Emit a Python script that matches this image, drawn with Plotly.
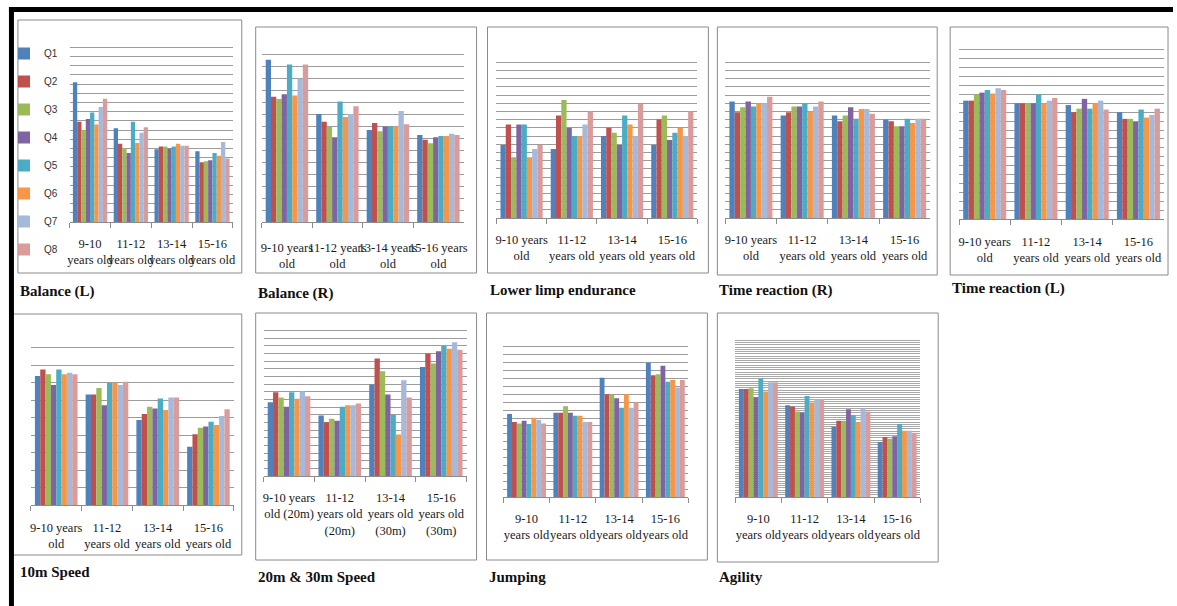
import plotly.graph_objects as go

# ---------------- data (arbitrary units = gridline steps) -------------
SERIES = ["Q1", "Q2", "Q3", "Q4", "Q5", "Q6", "Q7", "Q8"]
AGE_GROUPS = ["9-10", "11-12", "13-14", "15-16"]

LABELS_SHORT = ["9-10<br>years old", "11-12<br>years old", "13-14<br>years old", "15-16<br>years old"]
LABELS_WIDE = ["9-10 years<br>old", "11-12 years<br>old", "13-14 years<br>old", "15-16 years<br>old"]
LABELS_STD = ["9-10 years<br>old", "11-12<br>years old", "13-14<br>years old", "15-16<br>years old"]
LABELS_SPEED = ["9-10 years<br>old (20m)", "11-12<br>years old<br>(20m)", "13-14<br>years old<br>(30m)", "15-16<br>years old<br>(30m)"]

TITLES = ["Balance (L)", "Balance (R)", "Lower limp endurance", "Time reaction (R)",
          "Time reaction (L)", "10m Speed", "20m & 30m Speed", "Jumping", "Agility"]

# each list: one series (Q1..Q8), values for the 4 age groups
BALANCE_L = [
    [15.2, 10.2, 7.9, 7.7], [10.9, 8.5, 8.2, 6.5], [10.0, 8.0, 8.2, 6.6], [11.2, 7.5, 8.0, 6.7],
    [11.9, 10.9, 8.2, 7.5], [10.6, 8.6, 8.5, 7.2], [12.5, 9.7, 8.3, 8.7], [13.4, 10.3, 8.3, 6.9]]
BALANCE_R = [
    [13.6, 9.05, 7.7, 7.3], [10.5, 8.4, 8.3, 6.9], [10.3, 8.0, 7.6, 6.6], [10.7, 7.1, 8.0, 7.1],
    [13.2, 10.1, 8.0, 7.2], [10.6, 8.8, 8.0, 7.2], [12.0, 9.05, 9.3, 7.4], [13.2, 9.7, 8.2, 7.3]]
LOWER_LIMP = [
    [8.9, 8.4, 10.0, 8.9], [11.4, 12.5, 11.0, 12.0], [7.4, 14.4, 10.4, 12.5], [11.4, 11.0, 8.9, 9.5],
    [11.4, 10.0, 12.5, 10.4], [7.4, 10.0, 11.4, 11.0], [8.4, 11.4, 10.0, 10.0], [8.9, 13.0, 13.9, 13.0]]
TIME_R = [
    [14.2, 12.5, 12.5, 12.0], [12.9, 12.9, 11.8, 11.8], [13.5, 13.6, 12.5, 11.2], [14.2, 13.6, 13.5, 11.2],
    [13.6, 14.0, 12.1, 12.1], [14.0, 13.0, 13.3, 11.6], [14.0, 13.6, 13.3, 12.1], [14.8, 14.2, 12.7, 12.1]]
TIME_L = [
    [13.3, 13.0, 12.8, 12.0], [13.3, 13.0, 12.0, 11.25], [14.0, 13.0, 12.4, 11.25], [14.2, 13.0, 13.5, 10.9],
    [14.5, 14.0, 12.4, 12.3], [14.1, 13.0, 13.0, 11.4], [14.7, 13.3, 13.3, 11.7], [14.5, 13.6, 12.3, 12.4]]
SPEED_10 = [
    [7.37, 6.32, 4.86, 3.33], [7.75, 6.32, 5.2, 4.04], [7.47, 6.69, 5.62, 4.42], [6.86, 5.7, 5.52, 4.48],
    [7.75, 6.99, 6.08, 4.76], [7.47, 6.99, 5.43, 4.57], [7.56, 6.86, 6.15, 5.09], [7.47, 7.05, 6.15, 5.47]]
SPEED_20_30 = [
    [9.65, 7.91, 11.96, 14.26], [10.96, 7.04, 15.35, 16.0], [10.26, 7.48, 13.7, 14.7], [9.04, 7.22, 10.65, 16.3],
    [10.96, 9.04, 7.96, 17.0], [10.09, 9.26, 5.43, 16.65], [11.09, 9.26, 12.52, 17.5], [10.43, 9.48, 10.26, 16.5]]
JUMPING = [
    [10.5, 10.68, 15.1, 17.0], [9.5, 10.68, 13.0, 15.4], [9.3, 11.5, 12.9, 15.55], [9.66, 10.68, 12.5, 16.6],
    [9.24, 10.3, 11.3, 14.6], [10.04, 10.3, 13.0, 14.8], [9.75, 9.5, 11.3, 13.86], [9.3, 9.5, 11.95, 14.8]]
AGILITY = [
    [47.5, 40.4, 30.9, 24.2], [47.5, 39.8, 33.6, 26.4], [47.9, 37.6, 33.6, 25.6], [43.9, 37.2, 38.6, 26.8],
    [52.2, 44.5, 36.0, 32.1], [46.4, 41.6, 33.0, 29.2], [50.5, 43.0, 38.9, 29.2], [50.5, 43.0, 37.6, 28.3]]

# ---------------- styling / layout -------------
W, H = 1177, 606
COLORS = ["#4F81BD", "#C0504D", "#9BBB59", "#8064A2", "#4BACC6", "#F79646", "#A5B9DB", "#DA9C9B"]

# data, labels, grid steps, box (x0,y0,x1,y1), plot (x0,x1,ytop,ybot), title (x,y), label standoff
PANELS = [
    (BALANCE_L, LABELS_SHORT, 20, (16, 20, 241, 273), (68, 232, 38, 222), (16, 291), 10),
    (BALANCE_R, LABELS_WIDE, 15, (255, 27, 477, 273), (261, 464, 43, 222), (255, 293), 14),
    (LOWER_LIMP, LABELS_STD, 20, (488, 27, 710, 273), (497, 699, 54, 218), (488, 290), 10),
    (TIME_R, LABELS_STD, 20, (719, 27, 940, 275), (727, 933, 54, 218), (719, 290), 10),
    (TIME_L, LABELS_STD, 20, (953, 27, 1172, 275), (962, 1168, 41, 219), (953, 288), 11),
    (SPEED_10, LABELS_STD, 10, (11, 314, 241, 555), (29, 233, 330, 505), (16, 572), 11),
    (SPEED_20_30, LABELS_SPEED, 20, (255, 313, 477, 560), (263, 467, 323, 476), (255, 577), 10),
    (JUMPING, LABELS_SHORT, 20, (487, 313, 709, 560), (504, 690, 339, 497), (487, 577), 10),
    (AGILITY, LABELS_SHORT, 70, (719, 313, 941, 562), (737, 923, 338, 497), (719, 577), 10),
]


def fx(x):
    return x / W


def fy(y):
    return 1 - y / H


fig = go.Figure()
shapes = []
annotations = []
layout = {}

for p, (data, labels, ngrid, box, plot, tpos, standoff) in enumerate(PANELS):
    k = p + 1
    xa = "x" if k == 1 else f"x{k}"
    ya = "y" if k == 1 else f"y{k}"
    for s, name in enumerate(SERIES):
        fig.add_trace(go.Bar(
            x=AGE_GROUPS, y=data[s], name=name, xaxis=xa, yaxis=ya,
            marker=dict(color=COLORS[s], line=dict(width=0)),
            legendgroup=name, showlegend=(k == 1),
        ))
    x0, x1, yt, yb = plot
    layout[f"xaxis{'' if k == 1 else k}"] = dict(
        domain=[fx(x0), fx(x1)], anchor=ya, type="category",
        tickvals=AGE_GROUPS, ticktext=labels, tickangle=0,
        showline=True, linecolor="#8c8c8c", linewidth=1,
        ticks="outside", tickson="boundaries", ticklen=5, tickcolor="#8c8c8c",
        showgrid=False, zeroline=False, ticklabelstandoff=standoff,
        tickfont=dict(family="Liberation Serif", size=12.5, color="#1a1a1a"),
    )
    layout[f"yaxis{'' if k == 1 else k}"] = dict(
        domain=[fy(yb), fy(yt)], anchor=xa, range=[0, ngrid + 0.001], dtick=1,
        showgrid=True, gridcolor="#9c9c9c" if ngrid < 50 else "#a8a8a8", gridwidth=1,
        showticklabels=False, zeroline=False, showline=False, ticks="",
    )
    bx0, by0, bx1, by1 = box
    shapes.append(dict(type="rect", xref="paper", yref="paper",
                       x0=fx(bx0), x1=fx(bx1), y0=fy(by1), y1=fy(by0),
                       line=dict(color="#8a8a8a", width=1), layer="below"))
    annotations.append(dict(text=f"<b>{TITLES[p]}</b>", xref="paper", yref="paper",
                            x=fx(tpos[0]), y=fy(tpos[1]), xanchor="left", yanchor="middle",
                            showarrow=False,
                            font=dict(family="Liberation Serif", size=15, color="#111")))

# black frame (top and left)
shapes.append(dict(type="rect", xref="paper", yref="paper", x0=fx(7), x1=1, y0=fy(12), y1=fy(7),
                   fillcolor="black", line=dict(width=0)))
shapes.append(dict(type="rect", xref="paper", yref="paper", x0=fx(7), x1=fx(12), y0=0, y1=fy(7),
                   fillcolor="black", line=dict(width=0)))

fig.update_layout(
    **layout,
    width=W, height=H,
    margin=dict(l=0, r=0, t=0, b=0),
    paper_bgcolor="white", plot_bgcolor="white",
    barmode="group", bargap=0.16, bargroupgap=0,
    shapes=shapes, annotations=annotations,
    showlegend=True,
    legend=dict(x=fx(2), y=fy(39), xanchor="left", yanchor="top",
                bgcolor="rgba(0,0,0,0)", tracegroupgap=9, itemwidth=30,
                font=dict(family="Liberation Sans", size=10, color="#333")),
)

fig.write_html("out.html", config={"displayModeBar": False},
               post_script="document.body.style.margin='0';document.body.style.overflow='hidden';")
